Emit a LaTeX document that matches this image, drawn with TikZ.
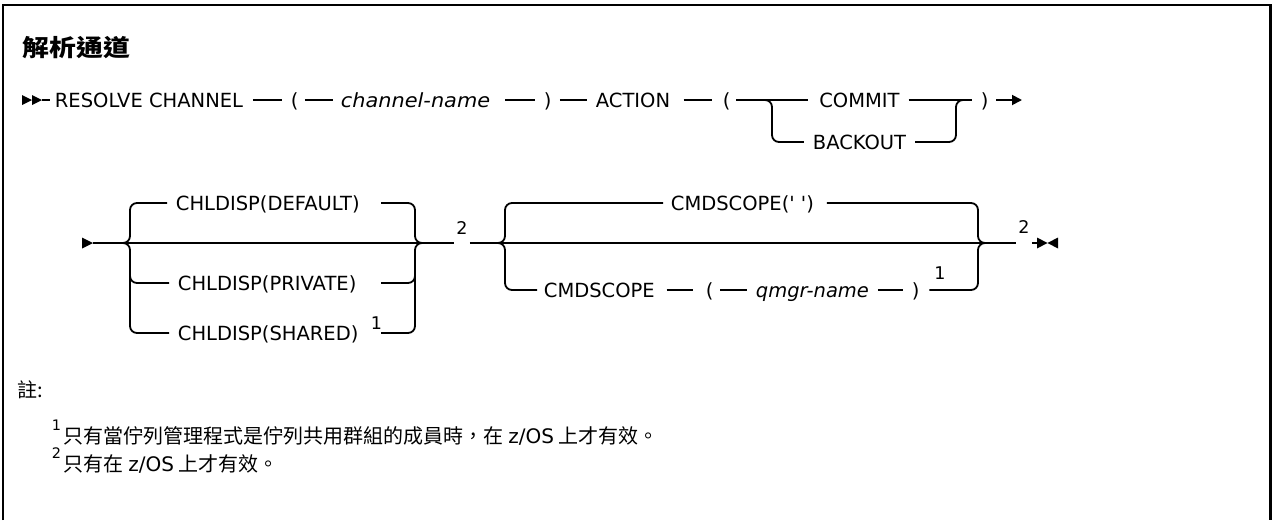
\documentclass[tikz,border=0pt]{standalone}
\usepackage{fontspec}
\usepackage{graphicx}
\setmainfont{DejaVu Sans}
\newfontfamily\cjk{Noto Sans CJK TC}
\usetikzlibrary{arrows.meta}
\begin{document}
\begin{tikzpicture}[x=1pt,y=-1pt,line width=1.8pt,
  tok/.style={inner sep=0pt,anchor=west,text height=14.2pt,text depth=0pt,font=\fontsize{19.5}{23}\selectfont},
  itok/.style={tok,font=\fontsize{19.5}{23}\selectfont\itshape},
  supnum/.style={inner sep=0pt,font=\fontsize{17.5}{20}\selectfont},
  notesup/.style={inner sep=0pt,anchor=base west,font=\fontsize{14.5}{16}\selectfont},
  notetxt/.style={inner sep=0pt,anchor=base west,font=\cjk\fontsize{20}{23}\selectfont},
  seg/.style={shorten <=8pt,shorten >=8pt},
  rail/.style={rounded corners=7pt},
  tipfill/.style={fill=black,draw=none}]
\useasboundingbox (0,0) rectangle (1272,520);
% frame
\draw[line width=2.5pt] (3,520) -- (3,5) -- (1270.5,5) -- (1270.5,520);
% title
\node[inner sep=0pt,anchor=base west,font=\cjk\bfseries\fontsize{23.5}{26}\selectfont] (title) at (22,56.4) {\scalebox{1.14}[1]{解析通道}};

% ---------- row 1 ----------
\fill[tipfill] (22,95) -- (32,100) -- (22,105) -- cycle;
\fill[tipfill] (32,95) -- (42,100) -- (32,105) -- cycle;
\coordinate (s1) at (42,100);
\node[tok] (rc) at (54,100) {RESOLVE CHANNEL};
\node[tok] (lpa) at (290,100) {(};
\node[itok] (cn) at (340,100) {\scalebox{1.07}[1]{channel-name}};
\node[tok] (rpa) at (543,100) {)};
\node[tok] (act) at (595,100) {ACTION};
\node[tok] (lpb) at (722,100) {(};
\node[tok,anchor=center] (commit) at (859.5,100) {COMMIT};
\node[tok,anchor=center] (backout) at (859.5,142) {BACKOUT};
\node[tok] (rpb) at (980,100) {)};
\coordinate (end1) at (1022,100);
\coordinate (jl1) at (772,100);
\coordinate (jr1) at (956,100);

\draw[shorten >=4pt] (s1) -- (rc);
\draw[shorten <=9pt,shorten >=8pt] (rc) -- (lpa);
\draw[shorten <=5.5pt,shorten >=7pt] (lpa) -- (cn);
\draw[shorten <=14pt,shorten >=8pt] (cn) -- (rpa);
\draw[shorten <=7.5pt,shorten >=8pt] (rpa) -- (act);
\draw[shorten <=12.5pt,shorten >=10pt] (act) -- (lpb);
\draw[shorten <=5pt,shorten >=10pt] (lpb) -- (commit);
\draw[shorten <=8pt,shorten >=8pt] (commit) -- (rpb);
\draw[shorten <=7pt,-{Triangle[length=10pt,width=10pt]}] (rpb) -- (end1);
\draw[rail] ([xshift=-14pt]jl1) -- (jl1) -- (jl1 |- backout) -- ([xshift=-8pt]backout.west);
\draw[rail] ([xshift=8pt]backout.east) -- (jr1 |- backout) -- (jr1) -- ([xshift=12pt]jr1);

% ---------- row 2 ----------
\fill[tipfill] (82,237.5) -- (93,243) -- (82,248.5) -- cycle;
\coordinate (s2) at (93,243);
\node[supnum] (n2a) at (462,228) {2};
\node[supnum] (n2b) at (1024,227) {2};
\coordinate (e2) at (1037,243);
\draw[shorten >=1.5pt] (s2) -- (s2 -| n2a.west);
\draw[shorten <=1.5pt,shorten >=1.5pt] (s2 -| n2a.east) -- (s2 -| n2b.west);
\draw[shorten <=1.5pt] (s2 -| n2b.east) -- (e2);
\fill[tipfill] (1037,237.5) -- (1047.5,243) -- (1037,248.5) -- cycle;
\fill[tipfill] (1058,237.5) -- (1047.5,243) -- (1058,248.5) -- cycle;

% group 1
\node[tok] (dflt) at (175,203) {CHLDISP(DEFAULT)};
\node[tok] (priv) at (177,283) {CHLDISP(PRIVATE)};
\node[tok] (shrd) at (177,333) {CHLDISP(SHARED)};
\node[supnum] (n1a) at (376.5,323) {1};
\coordinate (gl1) at (130,243);
\coordinate (gr1) at (415,243);
\coordinate (ra) at (381,243);
\draw[rail] ([xshift=-10pt]gl1) -- (gl1) -- (gl1 |- dflt) -- ([xshift=-8pt]dflt.west);
\draw[rail] ([xshift=-10pt]gl1) -- (gl1) -- (gl1 |- shrd) -- ([xshift=-8pt]shrd.west);
\draw[rail] ([yshift=14pt]gl1 |- priv) -- (gl1 |- priv) -- ([xshift=-8pt]priv.west);
\draw[rail] (ra |- dflt) -- (gr1 |- dflt) -- (gr1) -- ([xshift=10pt]gr1);
\draw[rail] (ra |- shrd) -- (gr1 |- shrd) -- (gr1) -- ([xshift=10pt]gr1);
\draw[rail] (ra |- priv) -- (gr1 |- priv) -- ([yshift=14pt]gr1 |- priv);

% group 2
\node[tok] (cs1) at (670,203) {CMDSCOPE(\textquotesingle\ \textquotesingle)};
\node[tok] (cs2) at (543,290) {CMDSCOPE};
\node[tok] (lpc) at (705,290) {(};
\node[itok] (qm) at (755,290) {qmgr-name};
\node[tok] (rpc) at (911,290) {)};
\node[supnum] (n1b) at (940,273) {1};
\coordinate (gl2) at (505,243);
\coordinate (gr2) at (978,243);
\draw[rail] ([xshift=-10pt]gl2) -- (gl2) -- (gl2 |- cs1) -- ([xshift=-7pt]cs1.west);
\draw[rail] ([xshift=-10pt]gl2) -- (gl2) -- (gl2 |- cs2) -- ([xshift=-6pt]cs2.west);
\draw[rail] ([xshift=12pt]cs1.east) -- (gr2 |- cs1) -- (gr2) -- ([xshift=10pt]gr2);
\draw[rail] ([xshift=9pt]rpc.east) -- (gr2 |- cs2) -- (gr2) -- ([xshift=10pt]gr2);
\draw[shorten <=11pt,shorten >=12pt] (cs2) -- (lpc);
\draw[shorten <=6pt,shorten >=8pt] (lpc) -- (qm);
\draw[seg] (qm) -- (rpc);

% ---------- notes ----------
\node[notetxt] (notes) at (17,397) {註:};
\node[notesup] (f1n) at (51,430) {1};
\node[notetxt] (f1) at (63,443) {只有當佇列管理程式是佇列共用群組的成員時，在 {\rmfamily z/OS} 上才有效。};
\node[notesup] (f2n) at (51,458) {2};
\node[notetxt] (f2) at (63,471) {只有在 {\rmfamily z/OS} 上才有效。};
\end{tikzpicture}
\end{document}
